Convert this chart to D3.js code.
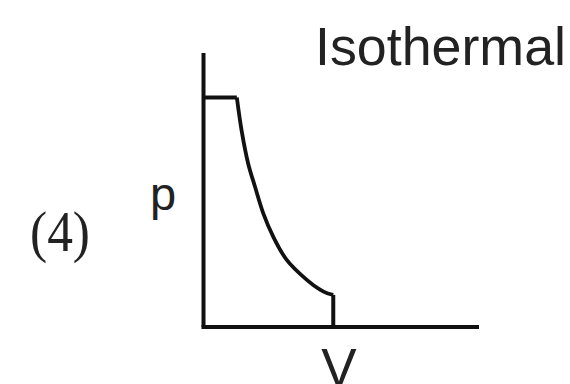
<!DOCTYPE html>
<html>
<head>
<meta charset="utf-8">
<script src="https://cdn.jsdelivr.net/npm/d3@7"></script>
<style>
  html, body { margin: 0; padding: 0; background: #fff; }
  svg { display: block; }
</style>
</head>
<body>
<div id="chart"></div>
<script>
// p-V diagram: isobaric part, isothermal curve, isochoric drop
let plateauV = [0, 1.21];
let plateauP = [8.38, 8.38];

let isoV = [1.21, 1.39, 1.62, 1.87, 2.17, 2.53, 3.02, 3.75, 4.23, 4.49, 4.71];
let isoP = [8.38, 7.13, 5.97, 5.12, 4.15, 3.30, 2.45, 1.72, 1.36, 1.23, 1.17];

let dropV = [4.71, 4.71];
let dropP = [1.17, 0];

let width = 570;
let height = 384;

let svg = d3.select('#chart')
  .append('svg')
  .attr('width', width)
  .attr('height', height);

svg.append('rect')
  .attr('width', width)
  .attr('height', height)
  .attr('fill', '#fff');

let x = d3.scaleLinear().domain([0, 10]).range([203.5, 479]);
let y = d3.scaleLinear().domain([0, 10]).range([327, 53]);

// axes (plain lines, no ticks)
svg.append('line')
  .attr('x1', x(0)).attr('y1', y(0))
  .attr('x2', x(0)).attr('y2', y(10))
  .attr('stroke', '#111')
  .attr('stroke-width', 4);

svg.append('line')
  .attr('x1', x(0) - 2).attr('y1', y(0))
  .attr('x2', x(10)).attr('y2', y(0))
  .attr('stroke', '#111')
  .attr('stroke-width', 4);

let zip = (vs, ps) => vs.map((v, i) => [v, ps[i]]);

let straight = d3.line()
  .x(d => x(d[0]))
  .y(d => y(d[1]));

let smooth = d3.line()
  .x(d => x(d[0]))
  .y(d => y(d[1]))
  .curve(d3.curveCatmullRom.alpha(0.5));

svg.append('path')
  .attr('d', straight(zip(plateauV, plateauP)))
  .attr('fill', 'none')
  .attr('stroke', '#111')
  .attr('stroke-width', 4);

svg.append('path')
  .attr('d', smooth(zip(isoV, isoP)))
  .attr('fill', 'none')
  .attr('stroke', '#111')
  .attr('stroke-width', 3.8)
  .attr('stroke-linejoin', 'round');

svg.append('path')
  .attr('d', straight(zip(dropV, dropP)))
  .attr('fill', 'none')
  .attr('stroke', '#111')
  .attr('stroke-width', 4);

// labels
svg.append('text')
  .attr('x', 315)
  .attr('y', 65)
  .attr('font-family', 'Liberation Sans, Arial, sans-serif')
  .attr('font-size', 53)
  .attr('fill', '#222')
  .attr('textLength', 251)
  .attr('lengthAdjust', 'spacingAndGlyphs')
  .text('Isothermal');

svg.append('text')
  .attr('x', 150)
  .attr('y', 210)
  .attr('font-family', 'Liberation Sans, Arial, sans-serif')
  .attr('font-size', 47)
  .attr('fill', '#222')
  .text('p');

svg.append('text')
  .attr('x', 339)
  .attr('y', 386)
  .attr('text-anchor', 'middle')
  .attr('font-family', 'Liberation Sans, Arial, sans-serif')
  .attr('font-size', 53)
  .attr('fill', '#222')
  .text('V');

svg.append('text')
  .attr('x', 30)
  .attr('y', 251)
  .attr('font-family', 'Liberation Serif, Times New Roman, serif')
  .attr('font-size', 58)
  .attr('fill', '#222')
  .attr('textLength', 60)
  .attr('lengthAdjust', 'spacingAndGlyphs')
  .text('(4)');
</script>
</body>
</html>
